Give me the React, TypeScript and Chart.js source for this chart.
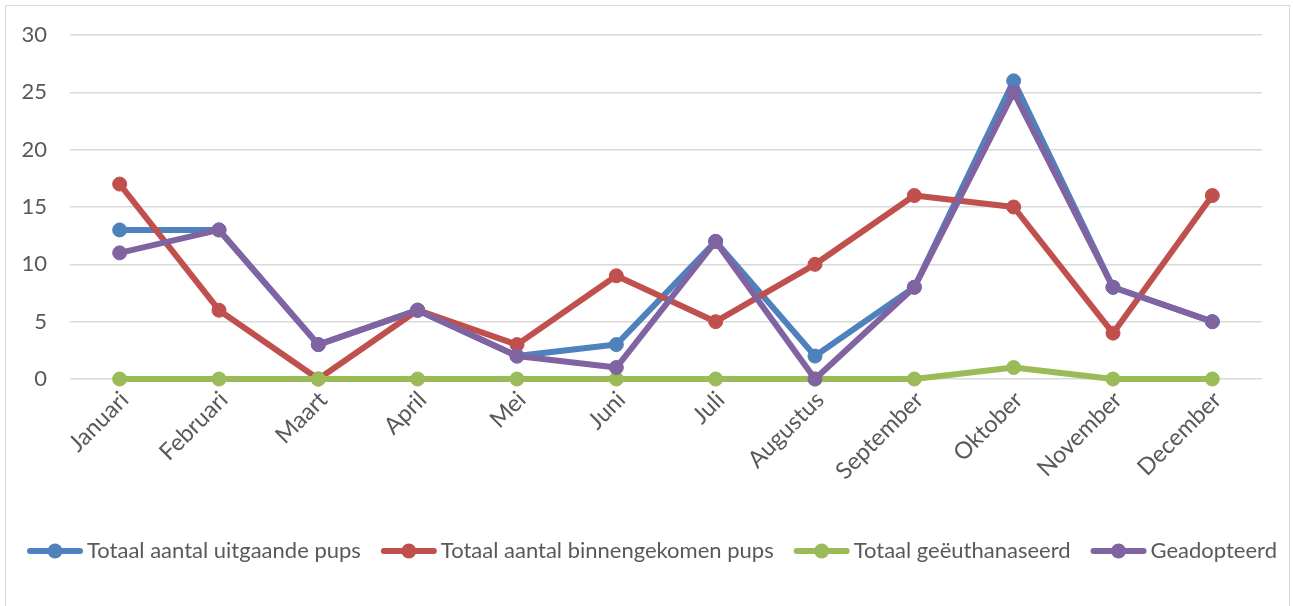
import React, { useEffect, useRef } from "react";
import { Chart, registerables } from "chart.js";

Chart.register(...registerables);

const months = [
  "Januari", "Februari", "Maart", "April", "Mei", "Juni",
  "Juli", "Augustus", "September", "Oktober", "November", "December",
];
const uitgaande = [13, 13, 3, 6, 2, 3, 12, 2, 8, 26, 8, 5];
const binnengekomen = [17, 6, 0, 6, 3, 9, 5, 10, 16, 15, 4, 16];
const geeuthanaseerd = [0, 0, 0, 0, 0, 0, 0, 0, 0, 1, 0, 0];
const geadopteerd = [11, 13, 3, 6, 2, 1, 12, 0, 8, 25, 8, 5];
const seriesNames = [
  "Totaal aantal uitgaande pups",
  "Totaal aantal binnengekomen pups",
  "Totaal geëuthanaseerd",
  "Geadopteerd",
];
const seriesColors = ["#4F81BD", "#C0504D", "#9BBB59", "#8064A2"];
const yTicks = [0, 5, 10, 15, 20, 25, 30];

const FONT = "Lato";
const FONT_SIZE = 22;
const X_FONT_SIZE = 23.5;
const TEXT_COLOR = "#595959";
const W = 1293;
const H = 606;

const frame = {
  id: "frame",
  beforeDraw(chart: any) {
    const ctx = chart.ctx;
    ctx.save();
    ctx.fillStyle = "#FFFFFF";
    ctx.fillRect(0, 0, chart.width, chart.height);
    ctx.strokeStyle = "#D9D9D9";
    ctx.lineWidth = 1;
    ctx.strokeRect(5.5, 5.5, 1284, 700);
    ctx.restore();
  },
};

const excelLegend = {
  id: "excelLegend",
  afterDraw(chart: any) {
    const ctx = chart.ctx;
    ctx.save();
    ctx.font = `${FONT_SIZE}px ${FONT}`;
    const markerW = 56;
    const gapText = 4;
    const gapItem = 20;
    const ds = chart.data.datasets;
    const widths = ds.map((d: any) => ctx.measureText(d.label).width);
    const total =
      widths.reduce((a: number, b: number) => a + b, 0) +
      ds.length * (markerW + gapText) +
      (ds.length - 1) * gapItem;
    let x = 652 - total / 2;
    const y = 551;
    ds.forEach((d: any, i: number) => {
      ctx.strokeStyle = d.borderColor;
      ctx.lineWidth = 6;
      ctx.lineCap = "round";
      ctx.beginPath();
      ctx.moveTo(x + 3, y);
      ctx.lineTo(x + markerW - 3, y);
      ctx.stroke();
      ctx.fillStyle = d.borderColor;
      ctx.beginPath();
      ctx.arc(x + markerW / 2, y, 7.5, 0, Math.PI * 2);
      ctx.fill();
      ctx.fillStyle = TEXT_COLOR;
      ctx.textAlign = "left";
      ctx.textBaseline = "middle";
      ctx.fillText(d.label, x + markerW + gapText, y);
      x += markerW + gapText + widths[i] + gapItem;
    });
    ctx.restore();
  },
};

export default function App() {
  const ref = useRef<HTMLCanvasElement | null>(null);

  useEffect(() => {
    if (!ref.current) return;
    const values = [uitgaande, binnengekomen, geeuthanaseerd, geadopteerd];
    const chart = new Chart(ref.current, {
      type: "line",
      data: {
        labels: months,
        datasets: values.map((v, i) => ({
          label: seriesNames[i],
          data: v,
          borderColor: seriesColors[i],
          backgroundColor: seriesColors[i],
          pointBackgroundColor: seriesColors[i],
          pointBorderColor: seriesColors[i],
          pointRadius: 7,
          pointBorderWidth: 1,
          borderWidth: 6,
          tension: 0,
          fill: false,
          clip: false,
          order: 4 - i,
          borderCapStyle: "round" as const,
          borderJoinStyle: "round" as const,
        })),
      },
      options: {
        responsive: false,
        animation: false,
        devicePixelRatio: 1,
        layout: { padding: { left: 0, top: 35, right: 31, bottom: 0 } },
        plugins: {
          legend: { display: false },
          tooltip: { enabled: false },
          title: { display: false },
        },
        scales: {
          x: {
            type: "category",
            offset: true,
            grid: { display: false, drawTicks: false },
            border: { display: false },
            ticks: {
              color: TEXT_COLOR,
              font: { family: FONT, size: X_FONT_SIZE },
              minRotation: 45,
              maxRotation: 45,
              padding: 7,
              labelOffset: 5,
              autoSkip: false,
            },
            afterFit: (scale: any) => {
              scale.height = H - 379;
              scale.paddingLeft = 0;
              scale.paddingRight = 0;
            },
          },
          y: {
            min: 0,
            max: 30,
            afterBuildTicks: (scale: any) => {
              scale.ticks = yTicks.map((v) => ({ value: v }));
            },
            grid: { color: "#D9D9D9", lineWidth: 1.5, drawTicks: false },
            border: { display: false },
            ticks: {
              color: TEXT_COLOR,
              font: { family: FONT, size: FONT_SIZE },
              padding: 23,
            },
            afterFit: (scale: any) => {
              scale.width = 70;
              scale.paddingTop = 0;
              scale.paddingBottom = 0;
            },
          },
        },
      },
      plugins: [frame, excelLegend],
    });
    return () => chart.destroy();
  }, []);

  return (
    <div style={{ position: "absolute", left: 0, top: 0, width: W, height: H }}>
      <canvas ref={ref} width={W} height={H} style={{ width: W, height: H, display: "block" }} />
    </div>
  );
}
